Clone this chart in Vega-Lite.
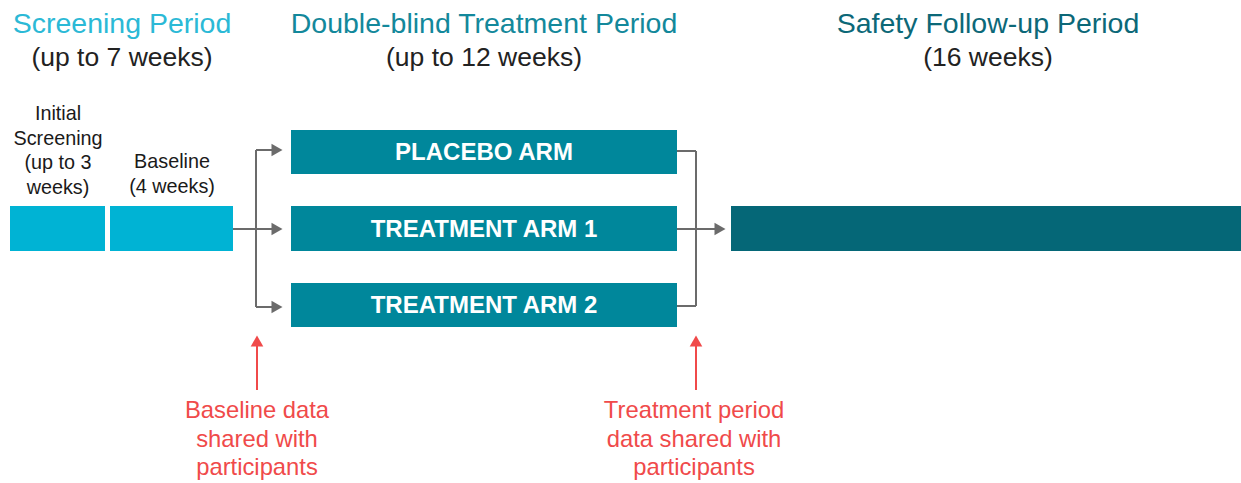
{
  "$schema": "https://vega.github.io/schema/vega-lite/v6.json",
  "width": 1241,
  "height": 483,
  "padding": 0,
  "autosize": {"type": "fit", "contains": "padding"},
  "background": "#ffffff",
  "config": {"view": {"stroke": null}},
  "datasets": {
    "boxes": [
      {"name": "Initial Screening", "x": 10, "x2": 105, "y": 206, "y2": 251, "kind": "screening"},
      {"name": "Baseline", "x": 110, "x2": 233, "y": 206, "y2": 251, "kind": "screening"},
      {"name": "Placebo arm", "x": 291, "x2": 677, "y": 130, "y2": 174, "kind": "arm"},
      {"name": "Treatment arm 1", "x": 291, "x2": 677, "y": 206, "y2": 251, "kind": "arm"},
      {"name": "Treatment arm 2", "x": 291, "x2": 677, "y": 283, "y2": 327, "kind": "arm"},
      {"name": "Safety follow-up", "x": 731, "x2": 1241, "y": 206, "y2": 251, "kind": "safety"}
    ],
    "links": [
      {"x": 233, "x2": 278, "y": 229, "y2": 229, "kind": "connector"},
      {"x": 256, "x2": 256, "y": 150, "y2": 307, "kind": "connector"},
      {"x": 256, "x2": 278, "y": 150, "y2": 150, "kind": "connector"},
      {"x": 256, "x2": 278, "y": 307, "y2": 307, "kind": "connector"},
      {"x": 677, "x2": 696, "y": 151, "y2": 151, "kind": "connector"},
      {"x": 677, "x2": 696, "y": 306, "y2": 306, "kind": "connector"},
      {"x": 696, "x2": 696, "y": 151, "y2": 306, "kind": "connector"},
      {"x": 677, "x2": 720, "y": 229, "y2": 229, "kind": "connector"},
      {"x": 257, "x2": 257, "y": 341, "y2": 390, "kind": "note"},
      {"x": 696, "x2": 696, "y": 341, "y2": 390, "kind": "note"}
    ],
    "heads": [
      {"x": 277, "y": 150, "dir": "right", "kind": "connector"},
      {"x": 277, "y": 229, "dir": "right", "kind": "connector"},
      {"x": 277, "y": 307, "dir": "right", "kind": "connector"},
      {"x": 720, "y": 229, "dir": "right", "kind": "connector"},
      {"x": 257, "y": 341, "dir": "up", "kind": "note"},
      {"x": 696, "y": 341, "dir": "up", "kind": "note"}
    ],
    "titles": [
      {"x": 122, "y": 33, "text": "Screening Period", "kind": "title_screening"},
      {"x": 484, "y": 33, "text": "Double-blind Treatment Period", "kind": "title_treatment"},
      {"x": 988, "y": 33, "text": "Safety Follow-up Period", "kind": "title_safety"}
    ],
    "subtitles": [
      {"x": 122, "y": 66, "text": "(up to 7 weeks)"},
      {"x": 484, "y": 66, "text": "(up to 12 weeks)"},
      {"x": 988, "y": 66, "text": "(16 weeks)"}
    ],
    "labels": [
      {"x": 58, "y": 120, "text": "Initial\nScreening\n(up to 3\nweeks)"},
      {"x": 172, "y": 168, "text": "Baseline\n(4 weeks)"}
    ],
    "boxlabels": [
      {"x": 484, "y": 160, "text": "PLACEBO ARM"},
      {"x": 484, "y": 237, "text": "TREATMENT ARM 1"},
      {"x": 484, "y": 313, "text": "TREATMENT ARM 2"}
    ],
    "notes": [
      {"x": 257, "y": 418, "text": "Baseline data\nshared with\nparticipants", "kind": "note"},
      {"x": 694, "y": 418, "text": "Treatment period\ndata shared with\nparticipants", "kind": "note"}
    ]
  },
  "encoding": {
    "x": {"field": "x", "type": "quantitative", "scale": {"domain": [0, 1241], "nice": false, "zero": false}, "axis": null},
    "y": {"field": "y", "type": "quantitative", "scale": {"domain": [0, 483], "nice": false, "zero": false, "reverse": true}, "axis": null}
  },
  "layer": [
    {
      "data": {"name": "boxes"},
      "mark": {"type": "rect"},
      "encoding": {
        "x2": {"field": "x2"},
        "y2": {"field": "y2"},
        "color": {"field": "kind", "type": "nominal", "legend": null,
          "scale": {"domain": ["screening", "arm", "safety", "connector", "note", "title_screening", "title_treatment", "title_safety"],
                    "range": ["#00B3D4", "#00879B", "#056777", "#6B6B6B", "#F04A4A", "#2BB9D6", "#13889B", "#0C6878"]}}
      }
    },
    {
      "data": {"name": "links"},
      "mark": {"type": "rule", "strokeWidth": 2},
      "encoding": {
        "x2": {"field": "x2"},
        "y2": {"field": "y2"},
        "color": {"field": "kind", "type": "nominal", "legend": null}
      }
    },
    {
      "data": {"name": "heads"},
      "mark": {"type": "point", "filled": true, "opacity": 1, "size": 160},
      "encoding": {
        "shape": {"field": "dir", "type": "nominal", "legend": null,
          "scale": {"domain": ["right", "up"], "range": ["triangle-right", "triangle-up"]}},
        "color": {"field": "kind", "type": "nominal", "legend": null}
      }
    },
    {
      "data": {"name": "titles"},
      "mark": {"type": "text", "font": "Liberation Sans", "fontSize": 28.5, "align": "center", "baseline": "alphabetic"},
      "encoding": {
        "text": {"field": "text"},
        "color": {"field": "kind", "type": "nominal", "legend": null}
      }
    },
    {
      "data": {"name": "subtitles"},
      "mark": {"type": "text", "font": "Liberation Sans", "fontSize": 26.5, "align": "center", "baseline": "alphabetic", "color": "#222222"},
      "encoding": {"text": {"field": "text"}}
    },
    {
      "data": {"name": "labels"},
      "mark": {"type": "text", "font": "Liberation Sans", "fontSize": 19.8, "align": "center", "baseline": "alphabetic", "color": "#1a1a1a", "lineBreak": "\n", "lineHeight": 24.5},
      "encoding": {"text": {"field": "text"}}
    },
    {
      "data": {"name": "boxlabels"},
      "mark": {"type": "text", "font": "Liberation Sans", "fontSize": 24, "fontWeight": "bold", "align": "center", "baseline": "alphabetic", "color": "#ffffff"},
      "encoding": {"text": {"field": "text"}}
    },
    {
      "data": {"name": "notes"},
      "mark": {"type": "text", "font": "Liberation Sans", "fontSize": 23.8, "align": "center", "baseline": "alphabetic", "lineBreak": "\n", "lineHeight": 28.5},
      "encoding": {
        "text": {"field": "text"},
        "color": {"field": "kind", "type": "nominal", "legend": null}
      }
    }
  ]
}
